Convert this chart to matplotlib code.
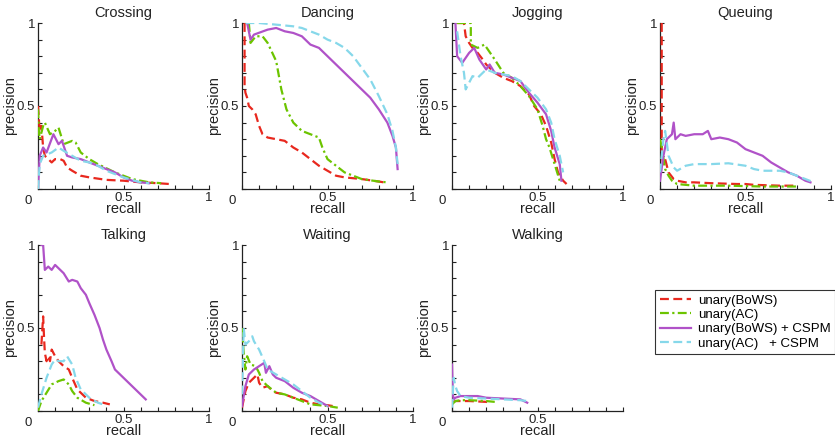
import matplotlib
matplotlib.use("Agg")
import matplotlib.pyplot as plt
import numpy as np

plt.rcParams['font.family'] = ['Liberation Sans', 'DejaVu Sans']

classes = ["Crossing", "Dancing", "Jogging", "Queuing", "Talking", "Waiting", "Walking"]
series_names = ["unary(BoWS)", "unary(AC)", "unary(BoWS) + CSPM", "unary(AC)   + CSPM"]

# ---- data: (recall, precision) per class per series ----
crossing_bows_r = [0, 0.005, 0.01, 0.02, 0.03, 0.04, 0.06, 0.08, 0.1, 0.13, 0.15, 0.17, 0.2, 0.25, 0.3, 0.4, 0.5, 0.6, 0.7, 0.77]
crossing_bows_p = [0.5, 0.42, 0.35, 0.38, 0.25, 0.2, 0.18, 0.16, 0.18, 0.18, 0.17, 0.13, 0.11, 0.08, 0.07, 0.055, 0.05, 0.04, 0.035, 0.03]
crossing_ac_r = [0, 0.005, 0.01, 0.03, 0.04, 0.07, 0.1, 0.12, 0.15, 0.2, 0.22, 0.25, 0.3, 0.35, 0.45, 0.55, 0.65, 0.72]
crossing_ac_p = [0.48, 0.35, 0.3, 0.38, 0.4, 0.33, 0.35, 0.37, 0.27, 0.29, 0.28, 0.22, 0.18, 0.15, 0.1, 0.06, 0.04, 0.035]
crossing_bc_r = [0, 0.01, 0.03, 0.05, 0.09, 0.12, 0.14, 0.17, 0.2, 0.25, 0.3, 0.35, 0.4, 0.45, 0.5, 0.55, 0.6, 0.65]
crossing_bc_p = [0, 0.2, 0.25, 0.22, 0.33, 0.27, 0.29, 0.2, 0.19, 0.18, 0.16, 0.14, 0.12, 0.1, 0.07, 0.05, 0.04, 0.035]
crossing_acc_r = [0, 0.01, 0.03, 0.08, 0.12, 0.15, 0.2, 0.25, 0.3, 0.35, 0.4, 0.5, 0.6, 0.65]
crossing_acc_p = [0, 0.15, 0.2, 0.22, 0.25, 0.23, 0.2, 0.17, 0.16, 0.14, 0.11, 0.07, 0.04, 0.035]

dancing_bows_r = [0.015, 0.015, 0.02, 0.03, 0.04, 0.06, 0.08, 0.1, 0.12, 0.15, 0.2, 0.25, 0.3, 0.35, 0.4, 0.45, 0.5, 0.55, 0.6, 0.7, 0.8, 0.83]
dancing_bows_p = [1.0, 0.62, 0.58, 0.55, 0.5, 0.48, 0.45, 0.38, 0.33, 0.31, 0.3, 0.29, 0.25, 0.22, 0.18, 0.14, 0.11, 0.08, 0.07, 0.06, 0.045, 0.04]
dancing_ac_r = [0.04, 0.05, 0.08, 0.12, 0.15, 0.2, 0.23, 0.26, 0.3, 0.35, 0.4, 0.45, 0.47, 0.5, 0.55, 0.6, 0.65, 0.7, 0.8, 0.85]
dancing_ac_p = [1.0, 0.88, 0.92, 0.92, 0.88, 0.77, 0.6, 0.48, 0.4, 0.35, 0.33, 0.31, 0.25, 0.18, 0.14, 0.1, 0.08, 0.06, 0.045, 0.04]
dancing_bc_r = [0.03, 0.05, 0.07, 0.15, 0.2, 0.25, 0.3, 0.35, 0.4, 0.45, 0.5, 0.55, 0.6, 0.65, 0.7, 0.75, 0.8, 0.85, 0.88, 0.9, 0.91]
dancing_bc_p = [1.0, 0.9, 0.93, 0.96, 0.97, 0.95, 0.94, 0.92, 0.87, 0.85, 0.8, 0.75, 0.7, 0.65, 0.6, 0.55, 0.48, 0.4, 0.32, 0.25, 0.12]
dancing_acc_r = [0.02, 0.1, 0.2, 0.3, 0.35, 0.4, 0.45, 0.5, 0.55, 0.6, 0.65, 0.7, 0.75, 0.8, 0.85, 0.88, 0.9, 0.91]
dancing_acc_p = [1.0, 1.0, 0.99, 0.98, 0.97, 0.95, 0.93, 0.9, 0.88, 0.85, 0.8, 0.73, 0.66, 0.56, 0.45, 0.35, 0.25, 0.15]

jogging_bows_r = [0.03, 0.07, 0.08, 0.1, 0.12, 0.15, 0.18, 0.2, 0.25, 0.3, 0.35, 0.4, 0.45, 0.48, 0.52, 0.55, 0.58, 0.6, 0.62, 0.65, 0.67]
jogging_bows_p = [1.0, 1.0, 0.92, 0.88, 0.85, 0.82, 0.78, 0.75, 0.7, 0.67, 0.65, 0.62, 0.57, 0.5, 0.45, 0.38, 0.28, 0.18, 0.1, 0.05, 0.03]
jogging_ac_r = [0.03, 0.11, 0.11, 0.15, 0.19, 0.25, 0.3, 0.35, 0.4, 0.45, 0.5, 0.53, 0.55, 0.57, 0.6, 0.63]
jogging_ac_p = [1.0, 1.0, 0.87, 0.85, 0.87, 0.78, 0.7, 0.67, 0.62, 0.56, 0.48, 0.38, 0.3, 0.25, 0.15, 0.05]
jogging_bc_r = [0.02, 0.03, 0.06, 0.1, 0.13, 0.16, 0.2, 0.22, 0.25, 0.3, 0.35, 0.4, 0.45, 0.5, 0.55, 0.58, 0.6, 0.63, 0.64]
jogging_bc_p = [1.0, 0.8, 0.76, 0.82, 0.85, 0.78, 0.72, 0.75, 0.7, 0.69, 0.67, 0.65, 0.58, 0.52, 0.45, 0.35, 0.25, 0.15, 0.05]
jogging_acc_r = [0.03, 0.05, 0.07, 0.08, 0.12, 0.15, 0.2, 0.25, 0.3, 0.35, 0.4, 0.45, 0.5, 0.55, 0.58, 0.6, 0.63, 0.65]
jogging_acc_p = [0.95, 0.8, 0.7, 0.6, 0.68, 0.67, 0.72, 0.7, 0.69, 0.68, 0.65, 0.6, 0.55, 0.48, 0.4, 0.3, 0.2, 0.1]

queuing_bows_r = [0.01, 0.01, 0.02, 0.03, 0.05, 0.08, 0.1, 0.15, 0.2, 0.3, 0.45, 0.5, 0.55, 0.7, 0.8]
queuing_bows_p = [1.0, 0.2, 0.15, 0.18, 0.1, 0.06, 0.05, 0.04, 0.04, 0.035, 0.03, 0.03, 0.025, 0.02, 0.02]
queuing_ac_r = [0.0, 0.01, 0.03, 0.05, 0.07, 0.1, 0.2, 0.4, 0.6, 0.8]
queuing_ac_p = [0.3, 0.25, 0.12, 0.08, 0.05, 0.03, 0.02, 0.02, 0.015, 0.015]
queuing_bc_r = [0.0, 0.02, 0.04, 0.07, 0.08, 0.09, 0.12, 0.15, 0.2, 0.25, 0.28, 0.3, 0.35, 0.4, 0.45, 0.5, 0.55, 0.6, 0.65, 0.7, 0.75, 0.8, 0.85, 0.88]
queuing_bc_p = [0.05, 0.2, 0.3, 0.33, 0.4, 0.3, 0.33, 0.32, 0.33, 0.33, 0.35, 0.3, 0.31, 0.3, 0.28, 0.24, 0.22, 0.2, 0.16, 0.13, 0.1, 0.08, 0.05, 0.04]
queuing_acc_r = [0.0, 0.02, 0.03, 0.05, 0.08, 0.1, 0.15, 0.2, 0.3, 0.4, 0.5, 0.55, 0.6, 0.7, 0.75, 0.8, 0.85, 0.9]
queuing_acc_p = [0.1, 0.3, 0.35, 0.2, 0.13, 0.11, 0.14, 0.15, 0.15, 0.155, 0.14, 0.12, 0.11, 0.11, 0.1, 0.08, 0.06, 0.04]

talking_bows_r = [0.02, 0.03, 0.035, 0.04, 0.05, 0.06, 0.07, 0.08, 0.1, 0.12, 0.15, 0.18, 0.2, 0.23, 0.28, 0.33, 0.38, 0.42]
talking_bows_p = [0.4, 0.57, 0.45, 0.35, 0.3, 0.33, 0.3, 0.37, 0.33, 0.3, 0.27, 0.25, 0.2, 0.13, 0.08, 0.06, 0.05, 0.04]
talking_ac_r = [0.0, 0.02, 0.05, 0.08, 0.12, 0.15, 0.18, 0.2, 0.23, 0.28, 0.33]
talking_ac_p = [0.0, 0.06, 0.11, 0.16, 0.18, 0.19, 0.16, 0.12, 0.08, 0.05, 0.035]
talking_bc_r = [0.02, 0.03, 0.04, 0.06, 0.08, 0.1, 0.12, 0.15, 0.18, 0.2, 0.23, 0.25, 0.28, 0.3, 0.33, 0.36, 0.38, 0.4, 0.43, 0.45, 0.5, 0.55, 0.6, 0.63]
talking_bc_p = [1.0, 1.0, 0.85, 0.87, 0.85, 0.88, 0.86, 0.83, 0.78, 0.79, 0.78, 0.74, 0.7, 0.65, 0.58, 0.5, 0.43, 0.37, 0.3, 0.25, 0.2, 0.15, 0.1, 0.07]
talking_acc_r = [0.0, 0.02, 0.05, 0.08, 0.1, 0.12, 0.15, 0.17, 0.2, 0.22, 0.25, 0.3, 0.35, 0.38]
talking_acc_p = [0.02, 0.1, 0.2, 0.28, 0.31, 0.3, 0.3, 0.33, 0.28, 0.2, 0.13, 0.08, 0.05, 0.04]

waiting_bows_r = [0.0, 0.02, 0.04, 0.07, 0.09, 0.1, 0.12, 0.15, 0.18, 0.2, 0.25, 0.3, 0.35, 0.4, 0.45, 0.5, 0.53]
waiting_bows_p = [0.02, 0.12, 0.17, 0.2, 0.22, 0.17, 0.14, 0.15, 0.12, 0.11, 0.1, 0.08, 0.07, 0.05, 0.04, 0.035, 0.03]
waiting_ac_r = [0.0, 0.01, 0.02, 0.03, 0.05, 0.08, 0.1, 0.12, 0.15, 0.2, 0.25, 0.3, 0.35, 0.4, 0.5, 0.56]
waiting_ac_p = [0.5, 0.35, 0.25, 0.33, 0.28, 0.27, 0.23, 0.18, 0.15, 0.11, 0.1, 0.08, 0.06, 0.04, 0.03, 0.02]
waiting_bc_r = [0.0, 0.02, 0.04, 0.07, 0.1, 0.13, 0.14, 0.16, 0.18, 0.2, 0.25, 0.3, 0.35, 0.4, 0.45, 0.5]
waiting_bc_p = [0.03, 0.15, 0.22, 0.25, 0.27, 0.29, 0.23, 0.27, 0.22, 0.2, 0.18, 0.14, 0.11, 0.09, 0.06, 0.03]
waiting_acc_r = [0.0, 0.01, 0.02, 0.04, 0.06, 0.07, 0.1, 0.13, 0.15, 0.2, 0.25, 0.3, 0.35, 0.4, 0.45, 0.5]
waiting_acc_p = [0.1, 0.5, 0.4, 0.42, 0.45, 0.42, 0.37, 0.3, 0.25, 0.22, 0.19, 0.16, 0.12, 0.08, 0.05, 0.03]

walking_bows_r = [0.0, 0.02, 0.05, 0.1, 0.2, 0.23]
walking_bows_p = [0.05, 0.06, 0.06, 0.06, 0.055, 0.05]
walking_ac_r = [0.0, 0.02, 0.05, 0.1, 0.2, 0.25]
walking_ac_p = [0.04, 0.06, 0.065, 0.065, 0.06, 0.055]
walking_bc_r = [0.0, 0.005, 0.01, 0.02, 0.05, 0.1, 0.15, 0.2, 0.3, 0.4, 0.44]
walking_bc_p = [0.28, 0.1, 0.07, 0.08, 0.09, 0.09, 0.09, 0.08, 0.075, 0.07, 0.05]
walking_acc_r = [0.0, 0.01, 0.02, 0.03, 0.05, 0.1, 0.2, 0.3, 0.4, 0.44]
walking_acc_p = [0.02, 0.2, 0.15, 0.12, 0.09, 0.08, 0.075, 0.07, 0.065, 0.06]

data = {
    "Crossing": [(crossing_bows_r, crossing_bows_p), (crossing_ac_r, crossing_ac_p), (crossing_bc_r, crossing_bc_p), (crossing_acc_r, crossing_acc_p)],
    "Dancing": [(dancing_bows_r, dancing_bows_p), (dancing_ac_r, dancing_ac_p), (dancing_bc_r, dancing_bc_p), (dancing_acc_r, dancing_acc_p)],
    "Jogging": [(jogging_bows_r, jogging_bows_p), (jogging_ac_r, jogging_ac_p), (jogging_bc_r, jogging_bc_p), (jogging_acc_r, jogging_acc_p)],
    "Queuing": [(queuing_bows_r, queuing_bows_p), (queuing_ac_r, queuing_ac_p), (queuing_bc_r, queuing_bc_p), (queuing_acc_r, queuing_acc_p)],
    "Talking": [(talking_bows_r, talking_bows_p), (talking_ac_r, talking_ac_p), (talking_bc_r, talking_bc_p), (talking_acc_r, talking_acc_p)],
    "Waiting": [(waiting_bows_r, waiting_bows_p), (waiting_ac_r, waiting_ac_p), (waiting_bc_r, waiting_bc_p), (waiting_acc_r, waiting_acc_p)],
    "Walking": [(walking_bows_r, walking_bows_p), (walking_ac_r, walking_ac_p), (walking_bc_r, walking_bc_p), (walking_acc_r, walking_acc_p)],
}

colors = ["#e8281e", "#6cc400", "#b052c8", "#86d8ea"]
styles = [(0, (4, 2)), (0, (4, 1.5, 1, 1.5)), "-", (0, (4, 2))]
z = [3, 3, 4, 5]

W, H = 835, 440
fig = plt.figure(figsize=(W / 100, H / 100), dpi=100)

lefts = [38, 242, 452, 660]
tops = [23, 245]
aw, ah = 171, 166
ink = "#222222"

for i, cls in enumerate(classes):
    row, col = divmod(i, 4)
    l = lefts[col]
    t = tops[row]
    ax = fig.add_axes([l / W, 1 - (t + ah) / H, aw / W, ah / H])
    handles = []
    for k, (r, p) in enumerate(data[cls]):
        h, = ax.plot(r, p, color=colors[k], linestyle=styles[k], linewidth=1.6,
                     zorder=z[k], label=series_names[k])
        handles.append(h)
    ax.set_xlim(0, 1)
    ax.set_ylim(0, 1)
    for s in ["top", "right"]:
        ax.spines[s].set_visible(False)
    for s in ["left", "bottom"]:
        ax.spines[s].set_linewidth(0.9)
        ax.spines[s].set_color(ink)
    ax.set_xticks([0, 0.5, 1])
    ax.set_xticklabels(["", "0.5", "" if cls == "Walking" else "1"])
    ax.set_yticks([0, 0.5, 1])
    ax.set_yticklabels(["", "0.5", "1"])
    ax.set_xticks(np.arange(0, 1.01, 0.1), minor=True)
    ax.set_yticks(np.arange(0, 1.01, 0.1), minor=True)
    ax.tick_params(which="both", direction="in", length=3, width=0.8, color=ink,
                   labelsize=9.5, labelcolor=ink, pad=2)
    ax.text(-0.035, -0.035, "0", transform=ax.transAxes, ha="right", va="top",
            fontsize=9.5, color=ink)
    ax.set_xlabel("recall", fontsize=10.5, labelpad=-1, color=ink)
    ax.set_ylabel("precision", fontsize=10.5, labelpad=0, color=ink)
    ax.set_title(cls, fontsize=10.5, pad=4, color=ink)
    ax.patch.set_alpha(0)

leg = fig.legend(handles, series_names, loc="upper left",
                 bbox_to_anchor=(655 / W, 1 - 290 / H), borderaxespad=0,
                 fontsize=9.5, frameon=True, fancybox=False, handlelength=2.4,
                 borderpad=0.35, labelspacing=0.15, handletextpad=0.5)
leg.get_frame().set_edgecolor("black")
leg.get_frame().set_linewidth(0.8)

fig.savefig("out.png", dpi=100)
